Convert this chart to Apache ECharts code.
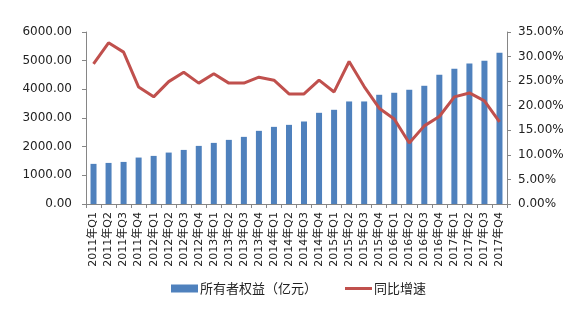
<!DOCTYPE html>
<html>
<head>
<meta charset="utf-8">
<script src="https://cdn.jsdelivr.net/npm/echarts@6/dist/echarts.min.js"></script>
<style>
  html, body { margin: 0; padding: 0; background: #fff; }
  #chart { width: 582px; height: 334px; }
</style>
</head>
<body>
<div id="chart"></div>
<script>
// Quarterly categories
const quarters = [
  '2011年Q1','2011年Q2','2011年Q3','2011年Q4',
  '2012年Q1','2012年Q2','2012年Q3','2012年Q4',
  '2013年Q1','2013年Q2','2013年Q3','2013年Q4',
  '2014年Q1','2014年Q2','2014年Q3','2014年Q4',
  '2015年Q1','2015年Q2','2015年Q3','2015年Q4',
  '2016年Q1','2016年Q2','2016年Q3','2016年Q4',
  '2017年Q1','2017年Q2','2017年Q3','2017年Q4'
];

// 所有者权益（亿元）
const equity = [
  1400, 1433, 1468, 1620,
  1678, 1794, 1887, 2027,
  2132, 2237, 2342, 2552,
  2691, 2761, 2878, 3181,
  3286, 3577, 3577, 3810,
  3880, 3985, 4124, 4509,
  4719, 4905, 4998, 5278
];

// 同比增速（%）
const growth = [
  28.5, 32.8, 30.9, 23.8,
  21.8, 24.9, 26.8, 24.6,
  26.5, 24.6, 24.6, 25.8,
  25.2, 22.4, 22.4, 25.2,
  22.8, 29.0, 23.9, 19.5,
  17.3, 12.4, 15.9, 17.8,
  21.8, 22.6, 21.0, 16.7
];

const barName = '所有者权益（亿元）';
const lineName = '同比增速';

const axisColor = '#868686';
const textColor = '#222';
const font = '"DejaVu Sans", "Noto Sans CJK SC", sans-serif';

const chart = echarts.init(document.getElementById('chart'), null, { renderer: 'canvas' });

chart.setOption({
  animation: false,
  backgroundColor: '#fff',
  grid: { left: 86, right: 75, top: 32, bottom: 130, containLabel: false },
  legend: {
    bottom: 34,
    left: 166,
    itemGap: 28,
    itemWidth: 27,
    itemHeight: 8,
    textStyle: { fontSize: 13, color: textColor, fontFamily: '"Noto Sans CJK SC", sans-serif', padding: [0, 0, 0, -3] },
    data: [
      { name: barName, icon: 'rect' },
      { name: lineName, icon: 'path://M0,0 L27,0 L27,3 L0,3 Z', itemStyle: { color: '#C0504D' } }
    ]
  },
  xAxis: {
    type: 'category',
    data: quarters,
    axisLine: { lineStyle: { color: axisColor } },
    axisTick: { show: true, alignWithLabel: false, length: 4, lineStyle: { color: axisColor } },
    axisLabel: {
      interval: 0,
      rotate: 90,
      fontSize: 11,
      color: textColor,
      fontFamily: font,
      margin: 8
    }
  },
  yAxis: [
    {
      type: 'value',
      min: 0, max: 6000, interval: 1000,
      axisLine: { show: true, lineStyle: { color: axisColor } },
      axisTick: { show: true, length: 4, lineStyle: { color: axisColor } },
      splitLine: { show: false },
      axisLabel: {
        fontSize: 12, color: textColor, fontFamily: font, margin: 14,
        formatter: v => v.toFixed(2)
      }
    },
    {
      type: 'value',
      min: 0, max: 35, interval: 5,
      axisLine: { show: true, lineStyle: { color: axisColor } },
      axisTick: { show: true, length: 4, lineStyle: { color: axisColor } },
      splitLine: { show: false },
      axisLabel: {
        fontSize: 12, color: textColor, fontFamily: font, margin: 11,
        formatter: v => v.toFixed(2) + '%'
      }
    }
  ],
  series: [
    {
      name: barName,
      type: 'bar',
      data: equity,
      barWidth: 6,
      itemStyle: { color: '#4F81BD' }
    },
    {
      name: lineName,
      type: 'line',
      yAxisIndex: 1,
      data: growth,
      symbol: 'none',
      lineStyle: { color: '#C0504D', width: 3 },
      itemStyle: { color: '#C0504D' }
    }
  ]
});
</script>
</body>
</html>
